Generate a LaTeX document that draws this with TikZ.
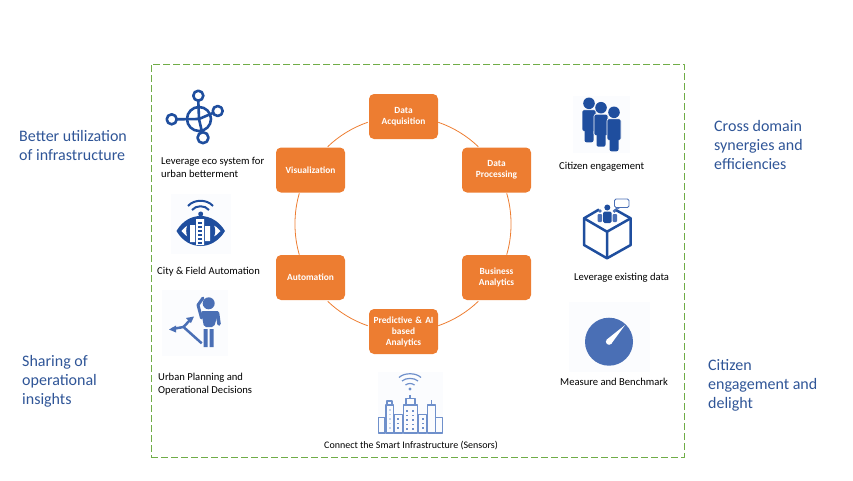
\documentclass[tikz,border=0pt]{standalone}
\usepackage{fontspec}
\setmainfont{Carlito}
\definecolor{ringorange}{HTML}{ED7D31}
\definecolor{framegreen}{HTML}{70AD47}
\definecolor{headblue}{HTML}{2F5597}
\definecolor{darkicon}{HTML}{1F4E9E}
\definecolor{midicon}{HTML}{4A6FB5}
\definecolor{paleicon}{HTML}{6F90CB}
\definecolor{iconback}{HTML}{FBFCFE}
\tikzset{
	stagebox/.style={draw=none,fill=ringorange,rounded corners=5pt,minimum width=69pt,minimum height=45pt,text width=66pt,inner xsep=0pt,align=center,text=white,font=\fontsize{9.4}{11}\selectfont\bfseries},
	ringline/.style={draw=ringorange,line width=0.8pt,looseness=0.85},
	headtext/.style={anchor=west,align=left,text=headblue,font=\fontsize{16}{19}\selectfont,inner sep=0pt},
	captext/.style={anchor=west,align=left,text=black,font=\fontsize{10.6}{13}\selectfont,inner sep=0pt},
}
\begin{document}
\begin{tikzpicture}[x=1pt,y=-1pt,line join=round]
		\useasboundingbox (0,0) rectangle (853,480);
		\node[draw=framegreen,dash pattern=on 7pt off 3pt,line width=1pt,minimum width=533pt,minimum height=393pt,inner sep=0pt] (Frame) at (417.5,260.5) {};
		%==stages on the ring
		\node[stagebox] (Acq) at (403.5,116.5) {Data\\Acquisition};
		\node[stagebox] (Proc) at (496.5,170) {Data\\Processing};
		\node[stagebox] (Bus) at (496.5,277.5) {Business\\Analytics};
		\node[stagebox] (Pred) at (403.5,331.5) {Predictive \& AI\\based\\Analytics};
		\node[stagebox] (Auto) at (310.5,277.5) {Automation};
		\node[stagebox] (Vis) at (310.5,170) {Visualization};
		%==ends of the arcs, just off the boxes
		\path
		(438.3,122.3)coordinate(AcqR) (478.3,146.7)coordinate(ProcT)
		(506.7,193.3)coordinate(ProcB) (506.7,254.7)coordinate(BusT)
		(478.3,301.3)coordinate(BusB) (438.3,325.7)coordinate(PredR)
		(367.7,325.7)coordinate(PredL) (327.7,301.3)coordinate(AutoB)
		(299.3,254.7)coordinate(AutoT) (299.3,193.3)coordinate(VisB)
		(327.7,146.7)coordinate(VisT) (367.7,122.3)coordinate(AcqL);
		\draw[ringline] (AcqR) to[bend left=12.6] (ProcT);
		\draw[ringline] (ProcB) to[bend left=16.5] (BusT);
		\draw[ringline] (BusB) to[bend left=12.6] (PredR);
		\draw[ringline] (PredL) to[bend left=12.6] (AutoB);
		\draw[ringline] (AutoT) to[bend left=16.5] (VisB);
		\draw[ringline] (VisT) to[bend left=12.6] (AcqL);
		%==side headings
		\node[headtext] (Util) at (19,145) {Better utilization\\of infrastructure};
		\node[headtext] (Cross) at (714,144.5) {Cross domain\\synergies and\\efficiencies};
		\node[headtext] (Share) at (22,381.5) {Sharing of\\operational\\insights};
		\node[headtext] (Delight) at (708,385) {Citizen\\engagement and\\delight};
		%==captions
		\node[captext] (EcoCap) at (161,167.5) {Leverage eco system for\\urban betterment};
		\node[captext] (CityCap) at (157,271.5) {City \& Field Automation};
		\node[captext] (PlanCap) at (158,384) {Urban Planning and\\Operational Decisions};
		\node[captext] (CitizenCap) at (559,166.5) {Citizen engagement};
		\node[captext] (DataCap) at (574,277.5) {Leverage existing data};
		\node[captext] (BenchCap) at (560,381.5) {Measure and Benchmark};
		\node[captext,font=\fontsize{10}{13}\selectfont] (SensorCap) at (324,445.5) {Connect the Smart Infrastructure (Sensors)};
		%==network icon
		\begin{scope}[draw=darkicon,line width=2.6pt]
		\draw (199,119) circle (12);
		\draw (198.3,100.7)--(199,119)--(176.7,119.3) (199,119)--(213,113) (199,119)--(202,132);
		\draw (198.3,95.7) circle (5) (217.7,111) circle (5) (171.7,119.3) circle (5) (203,137.7) circle (5.5);
		\end{scope}
		%==eye icon
		\fill[iconback] (171,194) rectangle (231,254);
		\fill[darkicon] (176.5,231) .. controls (188,211) and (213,211) .. (225,231) .. controls (213,251) and (188,251) .. (176.5,231);
		\fill[white] (181.5,231) .. controls (190,219) and (211,219) .. (220.5,231) .. controls (211,243) and (190,243) .. (181.5,231);
		\fill[darkicon] (200.7,231) circle (14.5);
		\fill[white] (190,225) rectangle (195,242) (196,219) rectangle (204,245) (205,226) rectangle (210,241);
		\foreach \yy in {222,226,...,242} \fill[darkicon] (198,\yy) rectangle (202,\yy+2);
		\draw[darkicon,line width=2pt] (192,210) .. controls (196,205) and (205,205) .. (209,210);
		\draw[darkicon,line width=2pt] (188,206) .. controls (194,199) and (207,199) .. (213,206);
		\fill[darkicon] (200.7,214) circle (2.5);
		%==planner icon
		\fill[iconback] (162,290) rectangle (228,356);
		\fill[midicon] (208.7,303.3) circle (6);
		\fill[midicon,rounded corners=2pt] (201,311)--(219,311)--(214,327)--(204,327)--cycle;
		\fill[midicon] (203.5,329) rectangle (207.5,347) (209.5,329) rectangle (213.5,347);
		\draw[midicon,line width=3pt,line cap=round] (201.5,318)--(198,305)--(203,298);
		\draw[midicon,line width=3.6pt,line cap=round] (217.5,313)--(219,324);
		\draw[midicon,line width=2.5pt] (201.7,343.3)--(183.5,327)--(172,329);
		\draw[midicon,line width=2.5pt] (183.5,327)--(190,320);
		\fill[midicon] (169,329.5)--(176,325.5)--(176,332.5)--cycle;
		\fill[midicon] (194,316.5)--(186,318)--(191,323)--cycle;
		%==people icon
		\fill[iconback] (573,96) rectangle (630,153);
		\foreach \px/\py in {589/103.3,601/107.7,614/112.3}{
			\fill[darkicon] (\px,\py) circle (5.8);
			\draw[white,line width=0.6pt,fill=darkicon,rounded corners=2pt] (\px-7,\py+6.5) rectangle (\px+7,\py+28);
			\fill[darkicon,rounded corners=2pt] (\px-4.5,\py+20) rectangle (\px+4.5,\py+39);
		}
		%==data box icon
		\draw[darkicon,line width=2.5pt] (599,209.5)--(584,218.3)--(584,245)--(607,258.3)--(630.7,245)--(630.7,218.3)--(615,209.5);
		\draw[darkicon,line width=2.5pt] (584,218.3)--(607,231.7)--(630.7,218.3) (607,231.7)--(607,258.3);
		\fill[darkicon] (607.3,207.5) circle (3);
		\fill[darkicon,rounded corners=1.5pt] (603,211.5) rectangle (611.5,223);
		\fill[midicon] (600,211) circle (1.8) (614.5,211) circle (1.8);
		\fill[midicon,rounded corners=1pt] (597.5,214) rectangle (602,222) (612.5,214) rectangle (617,222);
		\draw[midicon,line width=0.8pt,rounded corners=1.5pt] (614.5,199) rectangle (629,207.5);
		\draw[midicon,line width=0.8pt] (617,207.5)--(615.5,210)--(620,207.5);
		%==gauge icon
		\fill[iconback] (569,302) rectangle (650,372);
		\fill[midicon] (609,341.7) circle (24);
		\fill[white] (625,325)--(611.2,343.9)--(606.8,339.5)--cycle;
		\fill[white] (609,341.7) circle (3.1);
		%==city icon
		\fill[iconback] (378,372) rectangle (443,434);
		\begin{scope}[draw=paleicon,line width=1.2pt]
		\draw (378.5,433) rectangle (385,417.5);
		\draw (386,433) rectangle (393.3,405) (387,405) rectangle (392,401);
		\draw (394,433) rectangle (402.3,414.5);
		\draw (403.3,433) rectangle (417.7,405) (406,405) rectangle (415,398.5) (410,398.5)--(410,394.5);
		\draw (418.7,433) rectangle (426.7,414.5);
		\draw (427.3,433) rectangle (435.7,405) (431.5,405)--(431.5,400);
		\draw (435.7,433) rectangle (442.7,417.5);
		\draw (402,381) .. controls (406,377.5) and (414,377.5) .. (418,381);
		\draw (399,377.5) .. controls (404,372.5) and (416,372.5) .. (421,377.5);
		\draw (405.5,385) .. controls (408,383) and (412,383) .. (414.5,385);
		\end{scope}
		\fill[paleicon] (410,389) circle (1.6);
		\foreach \wy in {410,414.5,...,430}{
			\fill[paleicon] (406.3,\wy) rectangle (408.3,\wy+1.6);
			\fill[paleicon] (412,\wy) rectangle (414,\wy+1.6);
		}
		\foreach \wy in {418,422.5,...,430}{
			\fill[paleicon] (397.2,\wy) rectangle (399.2,\wy+1.6);
			\fill[paleicon] (421.7,\wy) rectangle (423.7,\wy+1.6);
		}
		\foreach \wy in {409,413.5,...,430} \fill[paleicon!40] (388.6,\wy) rectangle (390.8,\wy+1.6);
		\end{tikzpicture}
\end{document}
